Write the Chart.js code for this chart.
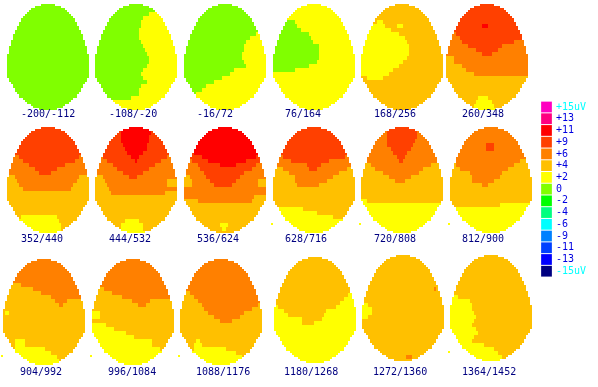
<!DOCTYPE html>
<html>
<head>
<meta charset="UTF-8" />
<title>Scalp maps</title>
<script src="https://cdn.jsdelivr.net/npm/chart.js"></script>
<style>
    html, body { margin: 0; padding: 0; background: #fff; }
    canvas { display: block; }
</style>
</head>
<body>
<canvas id="mapas" width="598" height="387"></canvas>
<script>
// colour scale (uV)
const levels = [15, 13, 11, 9, 6, 4, 2, 0, -2, -4, -6, -9, -11, -13, -15];
const levelLabels = ['+15uV', '+13', '+11', '+9', '+6', '+4', '+2', '0', '-2', '-4', '-6', '-9', '-11', '-13', '-15uV'];
const levelColors = ['#ff00c0', '#ff0080', '#ff0000', '#ff4000', '#ff8000', '#ffc000', '#ffff00', '#80ff00',
    '#00ff00', '#00ff80', '#00ffff', '#0080ff', '#0040ff', '#0000ff', '#000080'];

// time windows (ms)
const windows = ['-200/-112', '-108/-20', '-16/72', '76/164', '168/256', '260/348',
    '352/440', '444/532', '536/624', '628/716', '720/808', '812/900',
    '904/992', '996/1084', '1088/1176', '1180/1268', '1272/1360', '1364/1452'];

// cells left out on each side of the head, per grid row
const headInset = [17, 14, 12, 11, 10, 9, 8, 7, 7, 6, 6, 5, 5, 4, 4, 3, 3, 3, 2, 2, 2, 1, 1, 1, 1, 0, 0, 0, 0, 0, 0, 0, 0, 0, 0, 0, 0,
    1, 1, 2, 3, 3, 4, 4, 5, 6, 6, 8, 9, 10, 12, 13, 16];

// each map: one line per two grid rows, "level endCol level endCol level", last line repeats
const map1 = ['0'];
const map2 = ['0', '0', '0 27 2', '0 24 2', '0 23 2', '0 23 2', '0 22 2', '0 22 2', '0 22 2', '0 23 2', '0 24 2', '0 25 2', '0 26 2',
    '0 27 2', '0 27 2', '0 26 2', '0 24 2', '0 23 2', '0 24 2', '0 26 2', '0 23 2', '0 22 2', '0 22 2', '0 18 2', '2'];
const map3 = ['0', '0', '0', '0', '0', '0', '0', '0 36 2', '0 33 2', '0 31 2', '0 30 2', '0 30 2', '0 29 2', '0 29 2', '0 30 2', '0 31 2',
    '0 25 2', '0 23 2', '0 19 2', '0 15 2', '0 11 2', '0 9 2', '0 6 2', '2'];
const map4 = ['2', '2', '2', '2', '2 6 0 11 2', '0 12 2', '0 14 2', '0 18 2', '0 19 2', '0 20 2', '0 23 2', '0 23 2', '0 23 2', '0 23 2',
    '0 22 2', '0 18 2', '0 11 2', '2'];
const map5 = ['4', '4', '4', '4', '4 8 2 11 4', '2 12 4 18 2 21 4', '2 15 4', '2 19 4', '2 22 4', '2 23 4', '2 24 4', '2 24 4', '2 24 4',
    '2 23 4', '2 21 4', '2 19 4', '2 16 4', '2 14 4', '4 3 2 11 4', '4'];
const map6 = ['9', '9', '9', '9', '9', '9 18 11 21 9', '9', '6 5 9', '6 7 9', '6 8 9 34 6', '6 11 9 28 6', '6 15 9 26 6', '6 18 9 23 6',
    '4 4 6', '4 4 6', '4 8 6', '4 10 6', '4 14 6', '4', '4', '4', '4', '4', '4 16 2 21 4', '4 15 2 23 4', '4 14 2 24 4', '2'];
const map7 = ['9', '9', '9', '9', '9', '9', '9', '6 6 9 36 6', '6 8 9 34 6', '6 11 9 29 6', '6 14 9 25 6', '6 16 9 22 6', '4 4 6 36 4',
    '4 5 6 35 4', '4 6 6 33 4', '4 8 6 32 4', '4', '4', '4', '4', '4', '4', '4 7 2 25 4', '4 6 2 26 4', '4 8 2 27 4', '2 27 4', '2'];
const map8 = ['11', '9 13 11 28 9', '9 13 11 27 9', '9 13 11 27 9', '9 14 11 26 9', '9 15 11 26 9', '9 16 11 24 9', '6 4 9 18 11 22 9 36 6',
    '6 6 9 20 11 21 9 33 6', '6 9 9 30 6', '6 11 9 27 6', '6 14 9 24 6', '4 4 6 17 9 21 6', '4 5 6 36 4', '4 6 6 36 4', '4 7 6',
    '4 8 6 35 4', '4', '4', '4', '4', '4', '4', '4 15 2 22 4', '4 13 2 24 4', '4 13 2 24 4', '2'];
const map9 = ['11', '11', '11', '11', '11', '11', '9 5 11', '9 9 11 36 9', '6 4 9 12 11 31 9', '6 7 9 18 11 26 9 36 6', '6 8 9 34 6',
    '6 10 9 30 6', '4 3 6 11 9 28 6', '4 4 6 13 9 26 6 37 4', '4 4 6 15 9 24 6 37 4', '6', '6', '6 35 4', '4 7 6 34 4', '4', '4', '4', '4', '4',
    '4 18 2 22 4', '4 19 2 21 4', '4'];
const map10 = ['9', '9', '9', '9', '9', '9', '9', '6 5 9 36 6', '6 9 9 28 6', '6 17 9 24 6', '4 5 6 18 9 22 6 37 4', '4 8 6 33 4', '4 11 6 30 4',
    '4 11 6 27 4', '4 12 6 23 4', '4', '4', '4', '4', '4', '4 3 2 15 4', '2 22 4', '2 30 4', '2 36 4', '2'];
const map11 = ['9', '6 13 9 28 6', '6 13 9 28 6', '6 13 9 27 6', '6 13 9 26 6', '6 15 9 25 6', '6 16 9 23 6', '6 18 9 22 6', '6 19 9 21 6',
    '4 5 6 35 4', '4 7 6 31 4', '4 11 6 29 4', '4 14 6 25 4', '4 17 6 22 4', '4', '4', '4', '4', '2 3 4', '2'];
const map12 = ['6', '6', '6', '6', '6 18 9 22 6', '6 18 9 22 6', '6', '6', '6 35 4', '4 3 6 32 4', '4 5 6 29 4', '4 10 6 26 4', '4 11 6 25 4',
    '4 11 6 22 4', '4 16 6 19 4', '4', '4', '4', '4', '4 25 2', '2'];
const map13 = ['6', '6', '6', '6', '6', '6', '4 9 6', '4 15 6', '4 19 6', '4 24 6', '4 26 6 32 4', '4 28 6 30 4', '4', '4 1 2 3 4', '4', '4', '4',
    '4', '4', '4', '4 6 2 11 4', '4 6 2 11 4', '4 6 2 21 4', '2 24 4', '2 27 4', '2 28 4', '2'];
const map14 = ['6', '6', '6', '6', '6', '6', '6', '4 6 6', '4 10 6', '4 15 6', '4 20 6 29 4', '4 23 6 27 4', '4', '2 4 4', '2 4 4', '4', '2 7 4',
    '2 11 4', '2 17 4', '2 21 4', '2 30 4', '2 30 4', '2 34 4', '2'];
const map15 = ['6', '6', '6', '6', '6', '6', '6', '6', '4 5 6', '4 7 6', '4 9 6', '4 11 6 39 4', '4 12 6 36 4', '4 14 6 32 4', '4 17 6 30 4',
    '4 20 6 26 4', '4', '4', '4', '4', '4 8 2 10 4', '4 7 2 11 4', '4 7 2 23 4', '2 28 4', '2 31 4', '2'];
const map16 = ['4', '4', '4', '4', '4', '4', '4', '4', '4', '4 37 2', '4 35 2', '4 33 2', '2 2 4 31 2', '2 5 4 26 2', '2 7 4 25 2', '2 14 4 24 2',
    '2 14 4 20 2', '2'];
const map17 = ['4', '4', '4', '4', '4', '4', '4', '4', '4 36 6 37 4', '4', '4', '4', '2 3 4', '2 5 4', '2 5 4', '2 3 4', '4', '4', '4', '4', '4', '4',
    '4', '4', '4', '4 22 6 25 4', '4'];
const map18 = ['4', '4', '4', '4', '4', '4', '4', '4', '4', '4', '2 4 4', '2 10 4', '2 11 4', '2 11 4', '2 12 4', '2 13 4', '2 12 4', '2 11 4', '2 13 4',
    '2 14 4', '2 12 4', '2 11 4', '2 17 4', '2 22 4', '2 24 4', '2 26 4'];
const maps = [map1, map2, map3, map4, map5, map6, map7, map8, map9, map10, map11, map12, map13, map14, map15, map16, map17, map18];

// stray yellow dots beside the maps
const strayX = [272, 360, 449, 2, 91, 179, 449];
const strayY = [224, 224, 224, 356, 356, 356, 352];

// where each map and its caption sit on the page
const mapLeft = [7, 95, 184, 273, 361, 446, 7, 95, 184, 273, 361, 450, 3, 92, 180, 274, 362, 450];
const mapTop = [4, 4, 4, 4, 4, 4, 127, 127, 127, 127, 127, 127, 259, 259, 259, 257, 255, 255];
const captionX = [21, 109, 197, 285, 374, 462, 21, 109, 197, 285, 374, 462, 20, 108, 196, 284, 373, 462];
const captionY = [114.5, 239, 372];
const cell = 2;

function levelAt(line, col) {
    const parts = line.split(' ');
    for (let i = 1; i < parts.length; i += 2) {
        if (col < Number(parts[i])) return Number(parts[i - 1]);
    }
    return Number(parts[parts.length - 1]);
}

// cell points, grouped by level
const cellsByLevel = levels.map(() => []);
maps.forEach((lines, m) => {
    headInset.forEach((inset, row) => {
        const line = lines[Math.min(row >> 1, lines.length - 1)];
        for (let col = inset; col <= 40 - inset; col++) {
            const idx = levels.indexOf(levelAt(line, col));
            cellsByLevel[idx].push({ x: mapLeft[m] + cell * col + cell / 2, y: mapTop[m] + cell * row + cell / 2 });
        }
    });
});

const datasets = levels.map((lvl, i) => ({
    data: cellsByLevel[i],
    pointStyle: 'rect',
    pointRadius: cell * Math.SQRT2 / 2 + 0.01,
    pointBorderWidth: 0,
    backgroundColor: levelColors[i]
}));

// colour key
datasets.push({
    data: levels.map((lvl, i) => ({ x: 546.5, y: 107 + i * 11.73 })),
    pointStyle: 'rect',
    pointRadius: 7.6,
    pointBorderWidth: 0,
    backgroundColor: levelColors
});

datasets.push({
    data: strayX.map((x, i) => ({ x: x, y: strayY[i] })),
    pointStyle: 'rect',
    pointRadius: 1.42,
    pointBorderWidth: 0,
    backgroundColor: '#ffff00'
});

const textos = {
    id: 'textos',
    afterDatasetsDraw(chart) {
        const c = chart.ctx;
        const sx = chart.scales.x;
        const sy = chart.scales.y;
        c.save();
        c.font = '10px "DejaVu Sans Mono"';
        c.textBaseline = 'middle';
        c.textAlign = 'left';
        c.fillStyle = '#000080';
        windows.forEach((w, i) => {
            c.fillText(w, sx.getPixelForValue(captionX[i]), sy.getPixelForValue(captionY[Math.floor(i / 6)]));
        });
        levelLabels.forEach((t, i) => {
            c.fillStyle = (i == 0 || i == levelLabels.length - 1) ? '#00ffff' : '#0000e0';
            c.fillText(t, sx.getPixelForValue(556), sy.getPixelForValue(107 + i * 11.73));
        });
        c.restore();
    }
};

new Chart(document.getElementById('mapas').getContext('2d'), {
    type: 'scatter',
    data: { datasets: datasets },
    options: {
        responsive: false,
        animation: false,
        events: [],
        layout: { padding: 0, autoPadding: false },
        plugins: { legend: { display: false }, tooltip: { enabled: false } },
        scales: {
            x: { type: 'linear', min: 0, max: 598, display: false },
            y: { type: 'linear', min: 0, max: 387, reverse: true, display: false }
        }
    },
    plugins: [textos]
});
</script>
</body>
</html>
